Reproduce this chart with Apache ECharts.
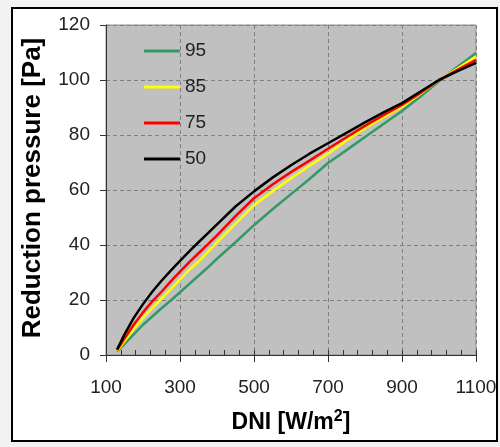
<!DOCTYPE html>
<html>
<head>
<meta charset="utf-8">
<script src="https://cdn.jsdelivr.net/npm/echarts@6/dist/echarts.min.js"></script>
<style>
html,body{margin:0;padding:0;background:#f2f2f2;}
#c{width:500px;height:447px;}
</style>
</head>
<body>
<div id="c"></div>
<script>
var dni = [130,150,175,200,225,250,275,300,325,350,375,400,450,500,550,600,650,700,750,800,850,900,950,1000,1050,1100];
var p95 = [1.2,4,7.5,11,14,17,19.8,22.8,25.8,28.8,31.8,35,41,47.2,53,58.5,64,69.8,74.5,79.3,84,88.7,94,99.5,104.8,109.8];
var p85 = [1.5,5,9.5,13.5,17,20.5,24,27.5,31,34,37.5,41,47.8,54.5,59.5,64.3,68.8,73.2,78,82.5,86.5,90.3,95,100,104.2,108.5];
var p75 = [1.8,6,11,15.5,19.5,23,26.8,30.3,33.8,37,40.2,43.5,50.5,57,62,66.5,70.7,75,79.2,83.3,87.2,90.9,95.3,100,103.7,107.3];
var p50 = [2,7.5,13.5,18.5,23,27,30.7,34.2,37.7,41,44.2,47.5,54,59.5,64.5,69,73.2,77,80.8,84.6,88.2,91.6,95.8,100,103.2,106.2];
var seriesNames = ['95','85','75','50'];
var seriesColors = ['#339966','#ffff00','#ff0000','#000000'];
var seriesData = [p95,p85,p75,p50];

function pairs(ys){ return dni.map(function(x,i){ return [x, ys[i]]; }); }

var chart = echarts.init(document.getElementById('c'), null, {renderer:'canvas'});
var font = 'Liberation Sans, Arial, sans-serif';
chart.setOption({
  backgroundColor: '#f2f2f2',
  animation: false,
  graphic: { elements: [{
    type: 'rect', z: -100, silent: true,
    shape: { x: 12, y: 8, width: 485, height: 433 },
    style: { fill: '#ffffff', stroke: '#000000', lineWidth: 2 }
  }]},
  grid: { left: 106, right: 24, top: 25, bottom: 92, show: true,
          backgroundColor: '#c0c0c0', borderColor: '#8c8c8c', borderWidth: 1 },
  legend: {
    orient: 'vertical', left: 144, top: 41, padding: 0, itemWidth: 36, itemHeight: 3, itemGap: 16,
    icon: 'rect',
    data: seriesNames,
    textStyle: { fontFamily: font, fontSize: 19, color: '#222', lineHeight: 20 }
  },
  xAxis: [{
    type: 'value', min: 100, max: 1100, interval: 200,
    name: 'DNI [W/m{sup|2}]', nameLocation: 'middle', nameGap: 54,
    nameTextStyle: { fontFamily: font, fontSize: 23, fontWeight: 'bold', color: '#000',
      rich: { sup: { fontFamily: font, fontSize: 16, fontWeight: 'bold', color: '#000', padding: [0,0,12,0] } } },
    axisLine: { show: true, lineStyle: { color: '#333', width: 1 } },
    axisTick: { show: true, inside: true, length: 5, lineStyle: { color: '#333' } },
    minorTick: { show: true, splitNumber: 5, length: 5, lineStyle: { color: '#333' } },
    axisLabel: { fontFamily: font, fontSize: 19, color: '#222', margin: 23,
      formatter: function(v){ return String(v); } },
    splitLine: { show: true, lineStyle: { color: '#808080', type: [4,3], width: 1 } }
  },{
    type: 'value', min: 100, max: 1100, interval: 200, position: 'bottom',
    axisLine: { show: false }, axisLabel: { show: false }, splitLine: { show: false },
    axisTick: { show: true, inside: false, length: 7, lineStyle: { color: '#333' } }
  }],
  yAxis: {
    type: 'value', min: 0, max: 120, interval: 20,
    name: 'Reduction pressure [Pa]', nameLocation: 'middle', nameGap: 60,
    nameTextStyle: { fontFamily: font, fontSize: 26, fontWeight: 'bold', color: '#000', padding: [0,0,0,4] },
    axisLine: { show: true, lineStyle: { color: '#333', width: 1 } },
    axisTick: { show: true, inside: false, length: 6, lineStyle: { color: '#333' } },
    axisLabel: { fontFamily: font, fontSize: 19, color: '#222', margin: 16 },
    splitLine: { show: true, lineStyle: { color: '#808080', type: [4,3], width: 1 } }
  },
  series: seriesNames.map(function(n,i){
    return { name: n, type: 'line', xAxisIndex: 0, showSymbol: false, symbol: 'none',
      data: pairs(seriesData[i]), lineStyle: { color: seriesColors[i], width: 2.5 },
      itemStyle: { color: seriesColors[i] } };
  })
});
</script>
</body>
</html>
